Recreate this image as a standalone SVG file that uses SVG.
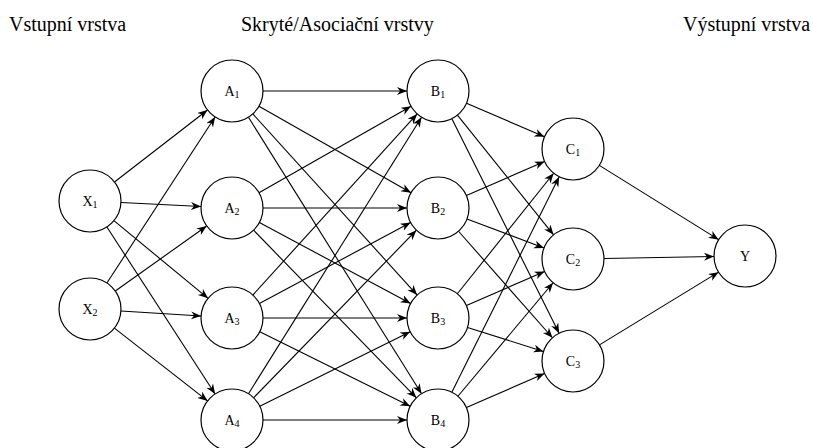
<svg xmlns="http://www.w3.org/2000/svg" width="813" height="448" viewBox="0 0 813 448">
<style>
.n{fill:#fff;stroke:#000;stroke-width:1.2}
.t{font-family:"Liberation Serif","Times New Roman",serif;font-size:14px;fill:#000;text-anchor:middle}
.s{font-size:10px}
.h{font-family:"Liberation Serif","Times New Roman",serif;font-size:20px;fill:#000}
.c line{stroke:#000;stroke-width:1.1;marker-end:url(#a)}
</style>
<defs>
<marker id="a" markerUnits="userSpaceOnUse" markerWidth="11" markerHeight="9" refX="10" refY="4" orient="auto">
<path d="M0,0 L10,4 L0,8 L3,4 z" fill="#000"/>
</marker>
</defs>
<text class="h" x="9" y="31">Vstupní vrstva</text>
<text class="h" x="241" y="31">Skryté/Asociační vrstvy</text>
<text class="h" x="683" y="31">Výstupní vrstva</text>
<g class="c" id="connectors">
<line x1="114.5" y1="182.0" x2="207.5" y2="110.0"/>
<line x1="121.0" y1="202.5" x2="201.0" y2="206.5"/>
<line x1="113.9" y1="220.7" x2="208.1" y2="298.3"/>
<line x1="106.9" y1="227.0" x2="215.1" y2="394.0"/>
<line x1="106.9" y1="283.0" x2="215.1" y2="117.0"/>
<line x1="115.3" y1="291.0" x2="206.7" y2="226.0"/>
<line x1="120.9" y1="311.0" x2="201.1" y2="316.0"/>
<line x1="114.4" y1="328.1" x2="207.6" y2="400.9"/>
<line x1="263" y1="91" x2="407" y2="91"/>
<line x1="258.96" y1="106.31" x2="411.04" y2="192.69"/>
<line x1="252.84" y1="113.96" x2="417.16" y2="295.04"/>
<line x1="248.45" y1="117.27" x2="421.55" y2="393.73"/>
<line x1="258.96" y1="192.69" x2="411.04" y2="106.31"/>
<line x1="263" y1="208" x2="407" y2="208"/>
<line x1="259.35" y1="222.60" x2="410.65" y2="303.40"/>
<line x1="253.60" y1="230.23" x2="416.40" y2="397.77"/>
<line x1="252.84" y1="295.04" x2="417.16" y2="113.96"/>
<line x1="259.35" y1="303.40" x2="410.65" y2="222.60"/>
<line x1="263" y1="318" x2="407" y2="318"/>
<line x1="259.78" y1="331.75" x2="410.22" y2="406.25"/>
<line x1="248.45" y1="393.73" x2="421.55" y2="117.27"/>
<line x1="253.60" y1="397.77" x2="416.40" y2="230.23"/>
<line x1="259.78" y1="406.25" x2="410.22" y2="331.75"/>
<line x1="263" y1="420" x2="407" y2="420"/>
<line x1="466.49" y1="103.24" x2="544.51" y2="136.76"/>
<line x1="457.42" y1="115.17" x2="553.58" y2="234.83"/>
<line x1="451.86" y1="118.73" x2="559.14" y2="333.27"/>
<line x1="466.41" y1="195.58" x2="544.59" y2="161.42"/>
<line x1="467.00" y1="218.96" x2="544.00" y2="248.04"/>
<line x1="458.51" y1="231.25" x2="552.49" y2="337.75"/>
<line x1="457.35" y1="293.78" x2="553.65" y2="173.22"/>
<line x1="466.41" y1="305.58" x2="544.59" y2="271.42"/>
<line x1="467.54" y1="327.41" x2="543.46" y2="351.59"/>
<line x1="451.82" y1="392.26" x2="559.18" y2="176.74"/>
<line x1="457.92" y1="396.24" x2="553.08" y2="282.76"/>
<line x1="466.41" y1="407.58" x2="544.59" y2="373.42"/>
<line x1="599.32" y1="165.37" x2="718.68" y2="239.63"/>
<line x1="604" y1="258.46" x2="714" y2="256.54"/>
<line x1="599.46" y1="344.85" x2="718.54" y2="272.15"/>
</g>
<g id="X1"><circle class="n" cx="90" cy="201" r="31"/><text class="t" x="90" y="206">X<tspan class="s" dy="2">1</tspan></text></g>
<g id="X2"><circle class="n" cx="90" cy="309" r="31"/><text class="t" x="90" y="314">X<tspan class="s" dy="2">2</tspan></text></g>
<g id="A1"><circle class="n" cx="232" cy="91" r="31"/><text class="t" x="232" y="96">A<tspan class="s" dy="2">1</tspan></text></g>
<g id="A2"><circle class="n" cx="232" cy="208" r="31"/><text class="t" x="232" y="213">A<tspan class="s" dy="2">2</tspan></text></g>
<g id="A3"><circle class="n" cx="232" cy="318" r="31"/><text class="t" x="232" y="323">A<tspan class="s" dy="2">3</tspan></text></g>
<g id="A4"><circle class="n" cx="232" cy="420" r="31"/><text class="t" x="232" y="425">A<tspan class="s" dy="2">4</tspan></text></g>
<g id="B1"><circle class="n" cx="438" cy="91" r="31"/><text class="t" x="438" y="96">B<tspan class="s" dy="2">1</tspan></text></g>
<g id="B2"><circle class="n" cx="438" cy="208" r="31"/><text class="t" x="438" y="213">B<tspan class="s" dy="2">2</tspan></text></g>
<g id="B3"><circle class="n" cx="438" cy="318" r="31"/><text class="t" x="438" y="323">B<tspan class="s" dy="2">3</tspan></text></g>
<g id="B4"><circle class="n" cx="438" cy="420" r="31"/><text class="t" x="438" y="425">B<tspan class="s" dy="2">4</tspan></text></g>
<g id="C1"><circle class="n" cx="573" cy="149" r="31"/><text class="t" x="573" y="154">C<tspan class="s" dy="2">1</tspan></text></g>
<g id="C2"><circle class="n" cx="573" cy="259" r="31"/><text class="t" x="573" y="264">C<tspan class="s" dy="2">2</tspan></text></g>
<g id="C3"><circle class="n" cx="573" cy="361" r="31"/><text class="t" x="573" y="366">C<tspan class="s" dy="2">3</tspan></text></g>
<g id="Y"><circle class="n" cx="745" cy="256" r="31"/><text class="t" x="745" y="261">Y</text></g>
</svg>
